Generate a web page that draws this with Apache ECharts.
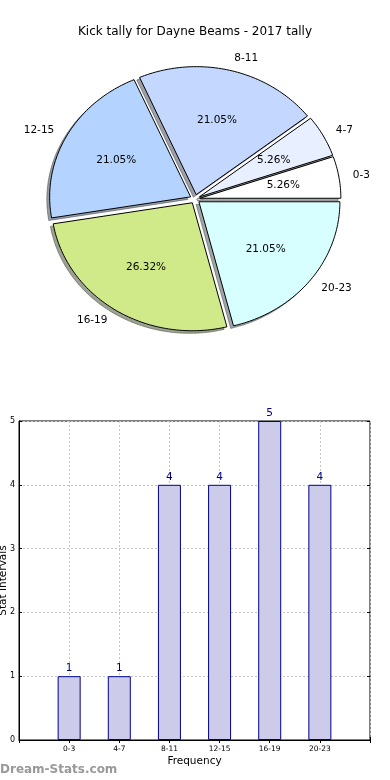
<!DOCTYPE html>
<html><head><meta charset="utf-8">
<script src="https://cdn.jsdelivr.net/npm/echarts@6/dist/echarts.min.js"></script>
<style>html,body{margin:0;padding:0;background:#fff;}#c{width:390px;height:780px;}</style>
</head><body><div id="c"></div>
<script>
// ---- data ----
const titleText = 'Kick tally for Dayne Beams - 2017 tally';
const categories = ['0-3', '4-7', '8-11', '12-15', '16-19', '20-23'];
const kickCounts = [1, 1, 4, 4, 5, 4];
const sliceColors = ['#ffffff', '#e8f0ff', '#c4d8ff', '#b4d4ff', '#d0ea8a', '#d8ffff'];
const yTicks = [0, 1, 2, 3, 4, 5];
const xAxisName = 'Frequency';
const yAxisName = 'Stat Intervals';
const watermark = 'Dream-Stats.com';

// ---- layout / style ----
const FONT = '"DejaVu Sans", Verdana, sans-serif';
const PIE = { cx: 195, cy: 199, rx: 141, ry: 128, explode: 0.035, shadow: 0.02, pctDist: 0.6, labelDist: 1.1 };
const total = kickCounts.reduce((a, b) => a + b, 0);

function shadeOf(hex) {
  const n = parseInt(hex.slice(1), 16);
  const r = Math.round(((n >> 16) & 255) * 0.3), g = Math.round(((n >> 8) & 255) * 0.3), b = Math.round((n & 255) * 0.3);
  return 'rgba(' + r + ',' + g + ',' + b + ',0.5)';
}

function renderSlice(params, api) {
  const i = params.dataIndex;
  const v = api.value(0);
  let before = 0;
  for (let k = 0; k < i; k++) before += kickCounts[k];
  const a0 = before / total * 2 * Math.PI;
  const a1 = (before + v) / total * 2 * Math.PI;
  const am = (a0 + a1) / 2;
  const ox = PIE.explode * Math.cos(am), oy = PIE.explode * Math.sin(am);
  const px = (x, y) => [PIE.cx + x * PIE.rx, PIE.cy - y * PIE.ry];
  const pts = [px(ox, oy)];
  const n = Math.max(8, Math.ceil((a1 - a0) / 0.02));
  for (let s = 0; s <= n; s++) {
    const a = a0 + (a1 - a0) * s / n;
    pts.push(px(ox + Math.cos(a), oy + Math.sin(a)));
  }
  const sdx = -PIE.shadow * PIE.rx, sdy = PIE.shadow * PIE.ry;
  const spts = pts.map(p => [p[0] + sdx, p[1] + sdy]);
  const col = sliceColors[i];
  const pctPos = px(ox + PIE.pctDist * Math.cos(am), oy + PIE.pctDist * Math.sin(am));
  const labX = ox + PIE.labelDist * Math.cos(am);
  const labPos = px(labX, oy + PIE.labelDist * Math.sin(am));
  return {
    type: 'group',
    children: [
      { type: 'polygon', z2: 1, shape: { points: spts }, style: { fill: shadeOf(col), stroke: shadeOf(col), lineWidth: 1 } },
      { type: 'polygon', z2: 10, shape: { points: pts }, style: { fill: col, stroke: '#000', lineWidth: 1 } },
      { type: 'text', z2: 20, style: { text: (v / total * 100).toFixed(2) + '%', x: pctPos[0], y: pctPos[1], align: 'center', verticalAlign: 'middle', fill: '#000', fontSize: 10.5, fontFamily: FONT } },
      { type: 'text', z2: 20, style: { text: categories[i], x: labPos[0], y: labPos[1], align: labX > 0 ? 'left' : 'right', verticalAlign: 'middle', fill: '#000', fontSize: 10.5, fontFamily: FONT } }
    ]
  };
}

const xLabels = [''].concat(categories, ['']);
const barValues = [null].concat(kickCounts, [null]);
const gridLine = { show: true, lineStyle: { color: '#c4c4c4', type: [2, 2], width: 1 } };

const chart = echarts.init(document.getElementById('c'), null, { renderer: 'canvas' });
chart.setOption({
  animation: false,
  backgroundColor: '#fff',
  textStyle: { fontFamily: FONT },
  title: {
    text: titleText, left: 'center', top: 21,
    textStyle: { fontSize: 12, fontWeight: 'normal', color: '#000', fontFamily: FONT }
  },
  graphic: [{
    type: 'text', left: 0, top: 764,
    style: { text: watermark, fill: '#999999', fontSize: 12, fontWeight: 'bold', fontFamily: FONT }
  }],
  grid: {
    left: 19, right: 20, top: 421, bottom: 40, containLabel: false, outerBoundsMode: 'none',
    show: true, borderColor: '#000', borderWidth: 1, backgroundColor: 'transparent'
  },
  xAxis: [{
    type: 'category', data: xLabels, boundaryGap: false,
    name: xAxisName, nameLocation: 'middle', nameGap: 16, nameMoveOverlap: false,
    nameTextStyle: { fontSize: 10.5, color: '#000', fontFamily: FONT },
    axisLine: { show: true, lineStyle: { color: '#000' } },
    axisTick: { show: true, inside: true, length: 3, lineStyle: { color: '#000' } },
    axisLabel: { fontSize: 7.5, color: '#000', margin: 5, interval: 0 },
    splitLine: gridLine
  }, {
    type: 'category', data: xLabels, boundaryGap: false, position: 'top',
    axisLine: { show: false }, axisLabel: { show: false },
    axisTick: { show: true, inside: true, length: 3, lineStyle: { color: '#000' } }, splitLine: { show: false }
  }],
  yAxis: [{
    type: 'value', min: yTicks[0], max: yTicks[yTicks.length - 1], interval: 1,
    name: yAxisName, nameLocation: 'middle', nameGap: 10, nameRotate: 90, nameMoveOverlap: false,
    nameTextStyle: { fontSize: 10.5, color: '#000', fontFamily: FONT },
    axisLine: { show: true, lineStyle: { color: '#000' } },
    axisTick: { show: true, inside: true, length: 3, lineStyle: { color: '#000' } },
    axisLabel: { fontSize: 8, color: '#000', margin: 4 },
    splitLine: gridLine
  }, {
    type: 'value', min: yTicks[0], max: yTicks[yTicks.length - 1], interval: 1, position: 'right',
    axisLine: { show: false }, axisLabel: { show: false },
    axisTick: { show: true, inside: true, length: 3, lineStyle: { color: '#000' } }, splitLine: { show: false }
  }],
  series: [{
    type: 'custom',
    coordinateSystem: 'none',
    renderItem: renderSlice,
    data: kickCounts.map(v => [v])
  }, {
    type: 'bar',
    data: barValues,
    barWidth: 23,
    itemStyle: { color: '#ccccea', borderColor: '#00008b', borderWidth: 1 },
    label: { show: true, position: 'top', distance: 2, color: '#00008b', fontSize: 10.5, fontFamily: FONT },
    z: 1
  }]
});
</script></body></html>
